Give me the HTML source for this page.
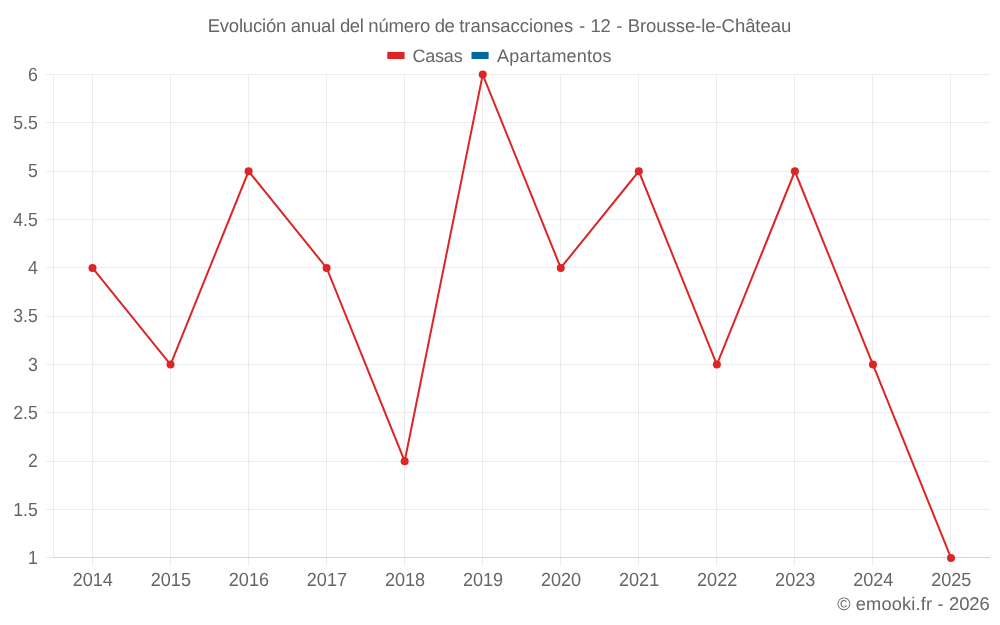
<!DOCTYPE html>
<html lang="es">
<head>
<meta charset="utf-8">
<title>Evolución anual del número de transacciones - 12 - Brousse-le-Château</title>
<style>
html,body{margin:0;padding:0;background:#fff;}
body{width:1000px;height:625px;overflow:hidden;}
svg{display:block;}
text{font-family:"Liberation Sans",sans-serif;fill:#666666;text-rendering:geometricPrecision;}
</style>
</head>
<body>
<svg width="1000" height="625" viewBox="0 0 1000 625">
<rect width="1000" height="625" fill="#ffffff"/>
<g stroke="#ececec" stroke-width="1" fill="none">
<line x1="45.4" y1="74.50" x2="990" y2="74.50"/>
<line x1="45.4" y1="122.50" x2="990" y2="122.50"/>
<line x1="45.4" y1="171.50" x2="990" y2="171.50"/>
<line x1="45.4" y1="219.50" x2="990" y2="219.50"/>
<line x1="45.4" y1="267.50" x2="990" y2="267.50"/>
<line x1="45.4" y1="316.50" x2="990" y2="316.50"/>
<line x1="45.4" y1="364.50" x2="990" y2="364.50"/>
<line x1="45.4" y1="412.50" x2="990" y2="412.50"/>
<line x1="45.4" y1="461.50" x2="990" y2="461.50"/>
<line x1="45.4" y1="509.50" x2="990" y2="509.50"/>
<line x1="45.4" y1="557.5" x2="53.5" y2="557.5"/>
<line x1="53.5" y1="74.0" x2="53.5" y2="557.5"/>
<line x1="92.5" y1="74.0" x2="92.5" y2="566.0"/>
<line x1="170.5" y1="74.0" x2="170.5" y2="566.0"/>
<line x1="248.5" y1="74.0" x2="248.5" y2="566.0"/>
<line x1="326.5" y1="74.0" x2="326.5" y2="566.0"/>
<line x1="404.5" y1="74.0" x2="404.5" y2="566.0"/>
<line x1="482.5" y1="74.0" x2="482.5" y2="566.0"/>
<line x1="560.5" y1="74.0" x2="560.5" y2="566.0"/>
<line x1="638.5" y1="74.0" x2="638.5" y2="566.0"/>
<line x1="716.5" y1="74.0" x2="716.5" y2="566.0"/>
<line x1="794.5" y1="74.0" x2="794.5" y2="566.0"/>
<line x1="872.5" y1="74.0" x2="872.5" y2="566.0"/>
<line x1="950.5" y1="74.0" x2="950.5" y2="566.0"/>
</g>
<g stroke="#d5d5d5" stroke-width="1" fill="none">
<line x1="53.0" y1="557.5" x2="990.7" y2="557.5"/>
</g>
<polyline points="92.50,267.92 170.55,364.58 248.59,171.26 326.63,267.92 404.68,461.24 482.73,74.60 560.77,267.92 638.82,171.26 716.86,364.58 794.90,171.26 872.95,364.58 951.00,557.90" fill="none" stroke="#dc2626" stroke-width="2" stroke-linejoin="miter"/>
<g fill="#dc2626">
<circle cx="92.50" cy="267.92" r="4"/>
<circle cx="170.55" cy="364.58" r="4"/>
<circle cx="248.59" cy="171.26" r="4"/>
<circle cx="326.63" cy="267.92" r="4"/>
<circle cx="404.68" cy="461.24" r="4"/>
<circle cx="482.73" cy="74.60" r="4"/>
<circle cx="560.77" cy="267.92" r="4"/>
<circle cx="638.82" cy="171.26" r="4"/>
<circle cx="716.86" cy="364.58" r="4"/>
<circle cx="794.90" cy="171.26" r="4"/>
<circle cx="872.95" cy="364.58" r="4"/>
<circle cx="951.00" cy="557.90" r="4"/>
</g>
<text y="31.8" font-size="18.5"><tspan x="207.70" letter-spacing="-0.206">Evolución</tspan> <tspan x="290.75" letter-spacing="-0.188">anual</tspan> <tspan x="340.05" letter-spacing="-0.488">del</tspan> <tspan x="368.25" letter-spacing="-0.150">número</tspan> <tspan x="434.75" letter-spacing="-0.500">de</tspan> <tspan x="459.25" letter-spacing="-0.021">transacciones</tspan> <tspan x="578.92">-</tspan> <tspan x="590.42" letter-spacing="-0.100">12</tspan> <tspan x="616.17">-</tspan> <tspan x="627.70" letter-spacing="-0.060">Brousse-le-Château</tspan></text>
<rect x="387.3" y="51.9" width="17.3" height="7.1" fill="#dc2626"/>
<text y="61.6" font-size="18"><tspan x="412.38" letter-spacing="-0.188">Casas</tspan></text>
<rect x="471.5" y="51.9" width="17.1" height="7.1" fill="#0369a1"/>
<text y="61.6" font-size="18"><tspan x="497.00" letter-spacing="0.225">Apartamentos</tspan></text>
<text x="0" y="80.70" font-size="19" transform="translate(27.98 0) scale(0.931 1)">6</text>
<text x="13.23" y="129.03" font-size="19" textLength="24.58" lengthAdjust="spacingAndGlyphs">5.5</text>
<text x="0" y="177.36" font-size="19" transform="translate(27.98 0) scale(0.931 1)">5</text>
<text x="13.23" y="225.69" font-size="19" textLength="24.58" lengthAdjust="spacingAndGlyphs">4.5</text>
<text x="0" y="274.02" font-size="19" transform="translate(27.98 0) scale(0.931 1)">4</text>
<text x="13.23" y="322.35" font-size="19" textLength="24.58" lengthAdjust="spacingAndGlyphs">3.5</text>
<text x="0" y="370.68" font-size="19" transform="translate(27.98 0) scale(0.931 1)">3</text>
<text x="13.23" y="419.01" font-size="19" textLength="24.58" lengthAdjust="spacingAndGlyphs">2.5</text>
<text x="0" y="467.34" font-size="19" transform="translate(27.98 0) scale(0.931 1)">2</text>
<text x="13.23" y="515.67" font-size="19" textLength="24.58" lengthAdjust="spacingAndGlyphs">1.5</text>
<text x="0" y="564.00" font-size="19" transform="translate(27.98 0) scale(0.931 1)">1</text>
<text x="72.70" y="585.50" font-size="19" textLength="40.20" lengthAdjust="spacingAndGlyphs">2014</text>
<text x="150.75" y="585.50" font-size="19" textLength="40.20" lengthAdjust="spacingAndGlyphs">2015</text>
<text x="228.79" y="585.50" font-size="19" textLength="40.20" lengthAdjust="spacingAndGlyphs">2016</text>
<text x="306.83" y="585.50" font-size="19" textLength="40.20" lengthAdjust="spacingAndGlyphs">2017</text>
<text x="384.88" y="585.50" font-size="19" textLength="40.20" lengthAdjust="spacingAndGlyphs">2018</text>
<text x="462.93" y="585.50" font-size="19" textLength="40.20" lengthAdjust="spacingAndGlyphs">2019</text>
<text x="540.97" y="585.50" font-size="19" textLength="40.20" lengthAdjust="spacingAndGlyphs">2020</text>
<text x="619.01" y="585.50" font-size="19" textLength="40.20" lengthAdjust="spacingAndGlyphs">2021</text>
<text x="697.06" y="585.50" font-size="19" textLength="40.20" lengthAdjust="spacingAndGlyphs">2022</text>
<text x="775.10" y="585.50" font-size="19" textLength="40.20" lengthAdjust="spacingAndGlyphs">2023</text>
<text x="853.15" y="585.50" font-size="19" textLength="40.20" lengthAdjust="spacingAndGlyphs">2024</text>
<text x="931.19" y="585.50" font-size="19" textLength="40.20" lengthAdjust="spacingAndGlyphs">2025</text>
<text y="609.8" font-size="18.2"><tspan x="837.29" font-size="18">©</tspan> <tspan x="855.75" letter-spacing="0.200" font-size="18.2">emooki.fr</tspan> <tspan x="937.40" font-size="18.2">-</tspan> <tspan x="949.12" letter-spacing="-0.167" font-size="18.5">2026</tspan></text>
</svg>
</body>
</html>
